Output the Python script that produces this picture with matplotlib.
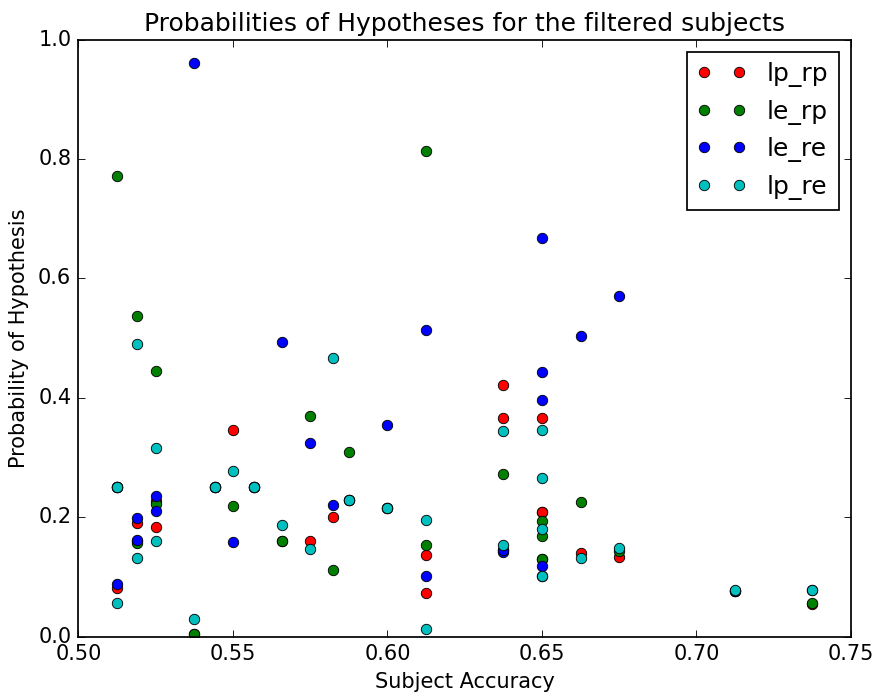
import matplotlib
matplotlib.use("Agg")
import matplotlib.pyplot as plt

# Precision de cada sujeto filtrado y probabilidad de cada hipotesis
accuracy = [0.5125, 0.5125, 0.519, 0.519, 0.525, 0.525, 0.5375, 0.5443,
            0.55, 0.5568, 0.5658, 0.575, 0.5823, 0.5875, 0.60, 0.6125,
            0.6125, 0.6375, 0.6375, 0.65, 0.65, 0.65, 0.65, 0.6625,
            0.675, 0.7125, 0.7375]
lp_rp = [0.081, 0.25, 0.190, 0.160, 0.183, 0.227, 0.005, 0.25,
         0.346, 0.25, 0.160, 0.160, 0.200, 0.229, 0.215, 0.073,
         0.137, 0.421, 0.367, 0.101, 0.208, 0.367, 0.208, 0.140,
         0.134, 0.076, 0.055]
le_rp = [0.772, 0.25, 0.537, 0.157, 0.445, 0.222, 0.005, 0.25,
         0.219, 0.25, 0.160, 0.369, 0.112, 0.310, 0.215, 0.813,
         0.154, 0.273, 0.145, 0.130, 0.194, 0.168, 0.130, 0.225,
         0.144, 0.076, 0.056]
le_re = [0.089, 0.25, 0.162, 0.198, 0.210, 0.235, 0.961, 0.25,
         0.158, 0.25, 0.493, 0.325, 0.221, 0.229, 0.354, 0.102,
         0.513, 0.142, 0.145, 0.668, 0.444, 0.119, 0.396, 0.504,
         0.571, 0.077, 0.078]
lp_re = [0.057, 0.25, 0.131, 0.490, 0.160, 0.316, 0.029, 0.25,
         0.277, 0.25, 0.187, 0.147, 0.467, 0.229, 0.215, 0.012,
         0.196, 0.154, 0.345, 0.101, 0.181, 0.347, 0.266, 0.131,
         0.149, 0.078, 0.078]

plt.style.use('classic')

# 876x693 px a 125 dpi
fig = plt.figure(figsize=(876 / 125, 693 / 125), dpi=125)
fig.subplots_adjust(left=0.0894, right=0.9715, bottom=0.0813, top=0.9427)
ax = fig.add_subplot(111)

ax.plot(accuracy, lp_rp, 'ro', label='lp_rp')
ax.plot(accuracy, le_rp, 'go', label='le_rp')
ax.plot(accuracy, le_re, 'bo', label='le_re')
ax.plot(accuracy, lp_re, 'co', label='lp_re')

ax.set_xlim(0.50, 0.75)
ax.set_ylim(0.0, 1.0)
ax.set_xticks([0.50, 0.55, 0.60, 0.65, 0.70, 0.75])
ax.set_yticks([0.0, 0.2, 0.4, 0.6, 0.8, 1.0])

ax.set_title('Probabilities of Hypotheses for the filtered subjects')
ax.set_xlabel('Subject Accuracy')
ax.set_ylabel('Probability of Hypothesis')
ax.legend(loc='upper right', numpoints=2)

fig.savefig('out.png', dpi=125, facecolor='white')
